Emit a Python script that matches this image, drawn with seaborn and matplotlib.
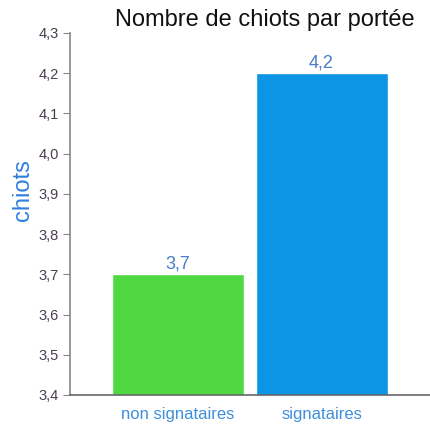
import matplotlib
matplotlib.use("Agg")
import matplotlib.pyplot as plt
import seaborn as sns
import pandas as pd

# Data
groupes = ["non signataires", "signataires"]
chiots = [3.7, 4.2]
couleurs = ["#50d843", "#0c95e4"]
y_ticks = [3.4, 3.5, 3.6, 3.7, 3.8, 3.9, 4.0, 4.1, 4.2, 4.3]

df = pd.DataFrame({"groupe": groupes, "chiots": chiots})

sns.set_style("white")
plt.rcParams["font.family"] = ["Liberation Sans", "DejaVu Sans"]

fig = plt.figure(figsize=(4.3, 4.25), dpi=100)
ax = fig.add_axes([0.163, 0.0706, 0.837, 0.852])

sns.barplot(data=df, x="groupe", y="chiots", hue="groupe", palette=couleurs,
            legend=False, width=0.92, saturation=1, ax=ax)

ax.set_ylim(3.4, 4.3)
ax.set_xlim(-0.753, 1.756)
ax.set_yticks(y_ticks)
ax.set_yticklabels([f"{v:.1f}".replace(".", ",") for v in y_ticks],
                   fontsize=10.5, color="#4a3d4f")
ax.tick_params(axis="y", direction="out", length=5, width=0.8, color="#888888", pad=3, left=True)
ax.tick_params(axis="x", length=0, labelsize=12, labelcolor="#3f8fdc", pad=9)

for i, v in enumerate(chiots):
    ax.text(i, v + 0.005, f"{v:.1f}".replace(".", ","), ha="center", va="bottom",
            fontsize=13, color="#4a7cc8")

sns.despine(ax=ax, top=True, right=True)
ax.spines["left"].set_color("#888888")
ax.spines["bottom"].set_color("#666666")
ax.spines["left"].set_linewidth(1.2)
ax.spines["bottom"].set_linewidth(1.2)

ax.set_xlabel("")
ax.set_ylabel("chiots", fontsize=17, color="#2f7fe0")
ax.yaxis.set_label_coords(-0.10, 0.566)
fig.text(0.617, 0.953, "Nombre de chiots par portée", ha="center", va="center",
         fontsize=17, color="#111111")

fig.savefig("out.png", dpi=100)
